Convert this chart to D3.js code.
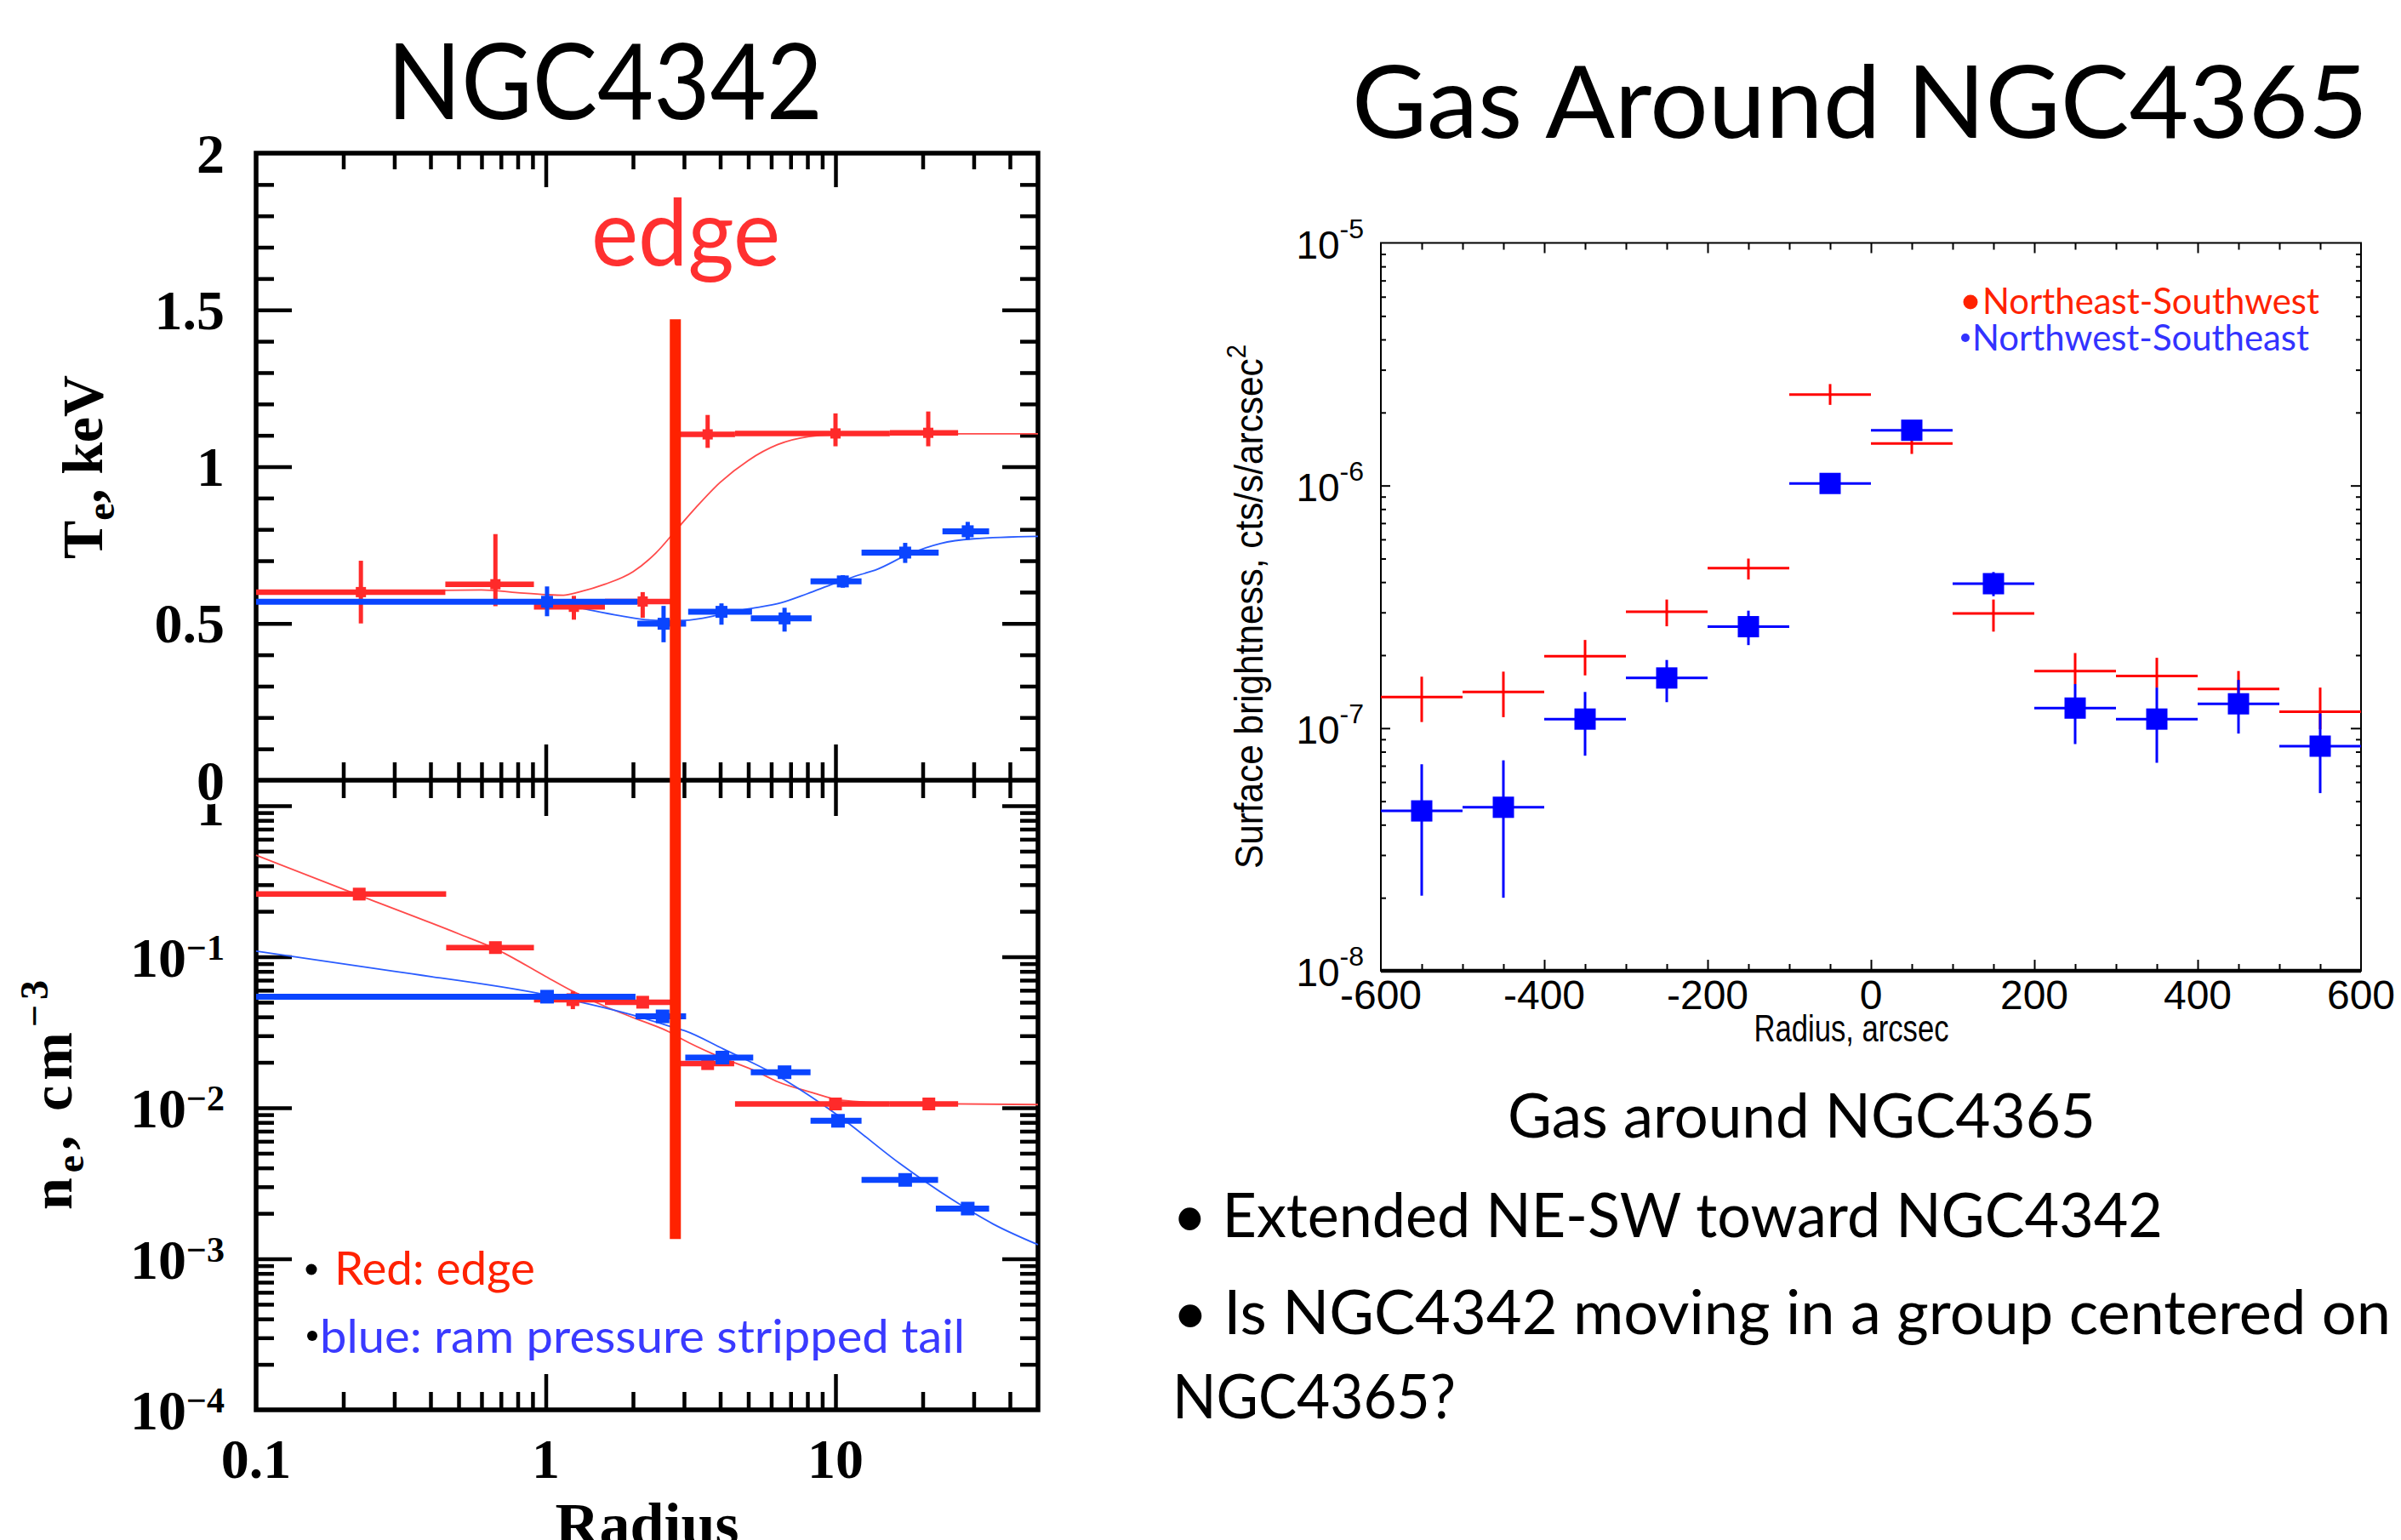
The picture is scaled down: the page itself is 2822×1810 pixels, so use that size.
<!DOCTYPE html>
<html><head><meta charset="utf-8">
<script src="https://cdn.jsdelivr.net/npm/d3@7/dist/d3.min.js"></script>
<style>html,body{margin:0;padding:0;background:#fff;}svg{display:block;}</style>
</head><body>
<script>
// ================= DATA =================
// NGC4342 profiles. Rows: [radius, radiusLo, radiusHi, value, valueLo, valueHi]
const tempEdge = [
  [0.23, 0.10, 0.45, 0.600, 0.500, 0.700],
  [0.67, 0.45, 0.91, 0.625, 0.555, 0.785],
  [1.25, 0.91, 1.60, 0.553, 0.512, 0.588],
  [2.16, 1.60, 2.70, 0.570, 0.518, 0.600],
  [3.62, 2.80, 4.50, 1.103, 1.060, 1.165],
  [10.0, 4.50, 15.4, 1.106, 1.065, 1.170],
  [20.9, 15.4, 26.5, 1.108, 1.065, 1.176]
];
const tempTail = [
  [1.01, 0.10, 2.07, 0.569, 0.523, 0.618],
  [2.55, 2.07, 3.05, 0.499, 0.440, 0.556],
  [4.04, 3.10, 5.15, 0.537, 0.496, 0.564],
  [6.67, 5.10, 8.27, 0.516, 0.474, 0.550],
  [10.6, 8.20, 12.3, 0.634, 0.614, 0.654],
  [17.4, 12.3, 22.7, 0.726, 0.693, 0.757],
  [28.6, 23.4, 33.9, 0.794, 0.767, 0.824]
];
const densEdge = [
  [0.227, 0.10, 0.453, 0.260, 0.245, 0.275],
  [0.67, 0.453, 0.91, 0.115, 0.108, 0.122],
  [1.24, 0.91, 1.60, 0.052, 0.045, 0.059],
  [2.16, 1.60, 2.70, 0.050, 0.046, 0.054],
  [3.62, 2.80, 4.47, 0.0196, 0.0185, 0.0210],
  [10.0, 4.50, 15.4, 0.0106, 0.0100, 0.0112],
  [21.0, 15.4, 26.5, 0.0106, 0.0100, 0.0112]
];
const densTail = [
  [1.01, 0.10, 2.04, 0.0544, 0.0510, 0.0580],
  [2.53, 2.04, 3.05, 0.0403, 0.0370, 0.0440],
  [4.07, 3.03, 5.20, 0.0215, 0.0200, 0.0230],
  [6.67, 5.10, 8.20, 0.0172, 0.0160, 0.0185],
  [10.2, 8.20, 12.3, 0.0082, 0.0076, 0.0088],
  [17.4, 12.3, 22.6, 0.00333, 0.0031, 0.0036],
  [28.6, 22.2, 33.9, 0.00215, 0.0020, 0.0023]
];
// model curves: [radius, value]
const tempEdgeModel = [[0.1,0.602],[0.3,0.604],[0.6,0.607],[0.8,0.598],[1.0,0.592],[1.15,0.590],[1.3,0.600],[1.6,0.625],[2.0,0.665],[2.4,0.725],[2.8,0.795],[3.3,0.870],[4.0,0.950],[5.0,1.020],[6.3,1.070],[8.1,1.096],[10,1.102],[20,1.105],[50,1.105]];
const tempTailModel = [[0.1,0.575],[0.5,0.574],[1.0,0.570],[1.3,0.550],[1.8,0.525],[2.4,0.510],[3.0,0.510],[4.0,0.528],[4.9,0.545],[6.5,0.566],[8.0,0.595],[9.9,0.627],[12.2,0.656],[13.7,0.670],[18,0.722],[23,0.755],[30,0.770],[50,0.778]];
const densEdgeModel = [[0.1,0.47],[0.227,0.255],[0.5,0.142],[0.67,0.113],[1.0,0.074],[1.24,0.059],[1.6,0.047],[2.07,0.0386],[2.7,0.0314],[2.96,0.0284],[3.9,0.0221],[5.3,0.0175],[6.3,0.0149],[8.2,0.0127],[10.5,0.0112],[16.6,0.0107],[50,0.0105]];
const densTailModel = [[0.1,0.109],[0.3,0.080],[1.0,0.056],[2.0,0.041],[2.7,0.0345],[3.0,0.0325],[4.1,0.0245],[6.3,0.0163],[10.2,0.0089],[16.6,0.0043],[25,0.0025],[35,0.0017],[50,0.00124]];
const edgeRadius = 2.8;      // position of the edge marker
const edgeTopT = 1.47;       // keV where the marker starts
const edgeBottomN = 1.35e-3; // cm^-3 where the marker ends
const radiusTickLabels = [0.1, 1, 10];
const tempTickLabels = [0, 0.5, 1, 1.5, 2];
const densTickExps = [-1, -2, -3, -4];

// NGC4365 surface brightness
const sbRadius   = [-550,-450,-350,-250,-150,-50,50,150,250,350,450,550];
const sbBinHalf  = 50;
const sbNESW     = [1.345e-7,1.41e-7,1.98e-7,3.02e-7,4.57e-7,2.37e-6,1.49e-6,2.97e-7,1.72e-7,1.64e-7,1.45e-7,1.17e-7];
const sbNESWHi   = [1.63e-7,1.71e-7,2.31e-7,3.39e-7,5.0e-7,2.62e-6,1.58e-6,3.39e-7,2.04e-7,1.95e-7,1.72e-7,1.47e-7];
const sbNESWLo   = [1.06e-7,1.11e-7,1.65e-7,2.63e-7,4.1e-7,2.15e-6,1.35e-6,2.5e-7,1.52e-7,1.47e-7,1.27e-7,0.99e-7];
const sbNWSE     = [4.56e-8,4.72e-8,1.09e-7,1.61e-7,2.62e-7,1.02e-6,1.69e-6,3.94e-7,1.21e-7,1.09e-7,1.26e-7,8.43e-8];
const sbNWSEHi   = [7.1e-8,7.37e-8,1.41e-7,1.91e-7,3.05e-7,1.06e-6,1.76e-6,4.4e-7,1.52e-7,1.47e-7,1.58e-7,1.15e-7];
const sbNWSELo   = [2.04e-8,2.0e-8,7.7e-8,1.28e-7,2.2e-7,0.97e-6,1.62e-6,3.5e-7,0.86e-7,0.72e-7,0.95e-7,5.4e-8];
const sbXTicks   = [-600,-400,-200,0,200,400,600];
const sbYTickExps = [-8,-7,-6,-5];

// ================= DRAWING =================
const W = 2822, H = 1810;
const svg = d3.select("body").append("svg").attr("width", W).attr("height", H);
svg.append("rect").attr("width", W).attr("height", H).attr("fill", "#fff");

const SERIF = '"Liberation Serif","DejaVu Serif",serif';
const SANS = 'Lato,"Open Sans","Noto Sans",sans-serif';
const HELV = '"Liberation Sans Narrow","Liberation Sans",Arial,sans-serif';

const RED_L = "#ff2a2a", BLUE_L = "#0a45ff", EDGE = "#ff2200";

function tickAxis(gen, scale, values, size, tr, width) {
  const g = svg.append("g").attr("transform", tr)
    .call(gen(scale).tickValues(values).tickSize(size).tickFormat(""));
  g.select(".domain").remove();
  g.selectAll(".tick text").remove();
  g.selectAll(".tick line").attr("stroke", "#000").attr("stroke-width", width);
  return g;
}

// ---------- Left figure ----------
const L = {x0: 301, x1: 1220, yTop: 180, yMid: 917, yBot: 1657};
const xR = d3.scaleLog().domain([0.1, 50]).range([L.x0, L.x1]);
const yT = d3.scaleLinear().domain([0, 2]).range([L.yMid, L.yTop]);
const yN = d3.scaleLog().domain([1e-4, 1]).range([L.yBot, 947]);

const xMinor = [], xMajor = [1, 10];
[-1, 0, 1].forEach(e => { for (let k = 2; k <= 9; k++) { const v = k * Math.pow(10, e); if (v < 50) xMinor.push(v); } });
const tMinor = d3.range(1, 20).filter(i => i % 5 !== 0).map(i => i / 10);
const tMajor = [0.5, 1, 1.5];
const nMinor = [], nMajor = [1e-3, 1e-2, 1e-1, 1];
[-4, -3, -2, -1].forEach(e => { for (let k = 2; k <= 9; k++) nMinor.push(k * Math.pow(10, e)); });

const TW = 4.5;
tickAxis(d3.axisBottom, xR, xMinor, 19, `translate(0,${L.yTop})`, TW);
tickAxis(d3.axisBottom, xR, xMajor, 40, `translate(0,${L.yTop})`, TW);
tickAxis(d3.axisBottom, xR, xMinor, 21, `translate(0,${L.yMid})`, TW);
tickAxis(d3.axisTop, xR, xMinor, 21, `translate(0,${L.yMid})`, TW);
tickAxis(d3.axisBottom, xR, xMajor, 42, `translate(0,${L.yMid})`, TW);
tickAxis(d3.axisTop, xR, xMajor, 42, `translate(0,${L.yMid})`, TW);
tickAxis(d3.axisTop, xR, xMinor, 21, `translate(0,${L.yBot})`, TW);
tickAxis(d3.axisTop, xR, xMajor, 42, `translate(0,${L.yBot})`, TW);
tickAxis(d3.axisRight, yT, tMinor, 21, `translate(${L.x0},0)`, TW);
tickAxis(d3.axisRight, yT, tMajor, 42, `translate(${L.x0},0)`, TW);
tickAxis(d3.axisLeft, yT, tMinor, 21, `translate(${L.x1},0)`, TW);
tickAxis(d3.axisLeft, yT, tMajor, 42, `translate(${L.x1},0)`, TW);
tickAxis(d3.axisRight, yN, nMinor, 21, `translate(${L.x0},0)`, TW);
tickAxis(d3.axisRight, yN, nMajor, 42, `translate(${L.x0},0)`, TW);
tickAxis(d3.axisLeft, yN, nMinor, 21, `translate(${L.x1},0)`, TW);
tickAxis(d3.axisLeft, yN, nMajor, 42, `translate(${L.x1},0)`, TW);

svg.append("rect").attr("x", L.x0).attr("y", L.yTop).attr("width", L.x1 - L.x0).attr("height", L.yBot - L.yTop)
  .attr("fill", "none").attr("stroke", "#000").attr("stroke-width", 5.5);
svg.append("line").attr("x1", L.x0).attr("x2", L.x1).attr("y1", L.yMid).attr("y2", L.yMid)
  .attr("stroke", "#000").attr("stroke-width", 5.5);

// model curves
function model(data, yScale, color) {
  svg.append("path").datum(data)
    .attr("d", d3.line().x(d => xR(d[0])).y(d => yScale(d[1])).curve(d3.curveMonotoneX))
    .attr("fill", "none").attr("stroke", color).attr("stroke-width", 1.8);
}
model(tempEdgeModel, yT, "#ff4a4a");
model(tempTailModel, yT, "#2a5cff");
model(densEdgeModel, yN, "#ff4a4a");
model(densTailModel, yN, "#2a5cff");

function errPoints(data, yScale, color, hw, vw, sq) {
  const g = svg.append("g");
  g.selectAll("line.h").data(data).join("line").attr("class", "h")
    .attr("x1", d => xR(d[1])).attr("x2", d => xR(d[2]))
    .attr("y1", d => yScale(d[3])).attr("y2", d => yScale(d[3]))
    .attr("stroke", color).attr("stroke-width", hw);
  g.selectAll("line.v").data(data).join("line").attr("class", "v")
    .attr("x1", d => xR(d[0])).attr("x2", d => xR(d[0]))
    .attr("y1", d => yScale(d[4])).attr("y2", d => yScale(d[5]))
    .attr("stroke", color).attr("stroke-width", vw);
  g.selectAll("rect").data(data).join("rect")
    .attr("x", d => xR(d[0]) - sq / 2).attr("y", d => yScale(d[3]) - sq / 2)
    .attr("width", sq).attr("height", sq).attr("fill", color);
}
errPoints(tempEdge, yT, RED_L, 6.5, 5, 12);
errPoints(tempTail, yT, BLUE_L, 7, 5, 14);
errPoints(densEdge, yN, RED_L, 6.5, 5, 15);
errPoints(densTail, yN, BLUE_L, 7, 5, 16);

// edge marker
svg.append("line").attr("x1", xR(edgeRadius)).attr("x2", xR(edgeRadius))
  .attr("y1", yT(edgeTopT)).attr("y2", yN(edgeBottomN))
  .attr("stroke", EDGE).attr("stroke-width", 13);

// tick labels (left)
svg.append("text").attr("x", 264).attr("y", yN(1)).attr("dominant-baseline", "central")
  .attr("text-anchor", "end").attr("font-family", SERIF).attr("font-weight", "bold").attr("font-size", 66).text("1");
svg.selectAll("text.tl").data(tempTickLabels).join("text").attr("class", "tl")
  .attr("x", 264).attr("y", d => yT(d)).attr("dominant-baseline", "central").attr("text-anchor", "end")
  .attr("font-family", SERIF).attr("font-weight", "bold").attr("font-size", 66)
  .attr("stroke", d => d === 0 ? "#fff" : "none").attr("stroke-width", 10).attr("paint-order", "stroke")
  .text(d => String(d));
densTickExps.forEach(e => {
  const t = svg.append("text").attr("x", 264).attr("y", yN(Math.pow(10, e)) + 23).attr("text-anchor", "end")
    .attr("font-family", SERIF).attr("font-weight", "bold").attr("font-size", 66);
  t.append("tspan").text("10");
  t.append("tspan").attr("dy", -20).attr("font-size", 42).text("\u2212" + Math.abs(e));
});
svg.selectAll("text.xl").data(radiusTickLabels).join("text").attr("class", "xl")
  .attr("x", d => xR(d)).attr("y", 1737).attr("text-anchor", "middle")
  .attr("font-family", SERIF).attr("font-weight", "bold").attr("font-size", 66)
  .text(d => String(d));
svg.append("text").attr("x", (L.x0 + L.x1) / 2).attr("y", 1816).attr("text-anchor", "middle")
  .attr("font-family", SERIF).attr("font-weight", "bold").attr("font-size", 72).text("Radius");

// axis titles (left)
{
  const t = svg.append("text").attr("transform", "translate(120,549) rotate(-90)").attr("text-anchor", "middle")
    .attr("font-family", SERIF).attr("font-weight", "bold").attr("font-size", 68)
    .attr("textLength", 216).attr("lengthAdjust", "spacing");
  t.append("tspan").text("T");
  t.append("tspan").attr("dy", 14).attr("font-size", 46).text("e");
  t.append("tspan").attr("dy", -14).text(",  keV");
}
{
  const t = svg.append("text").attr("transform", "translate(84,1287) rotate(-90)").attr("text-anchor", "middle")
    .attr("font-family", SERIF).attr("font-weight", "bold").attr("font-size", 68)
    .attr("textLength", 270).attr("lengthAdjust", "spacing");
  t.append("tspan").text("n");
  t.append("tspan").attr("dy", 14).attr("font-size", 46).text("e");
  t.append("tspan").attr("dy", -14).text(",  cm");
  t.append("tspan").attr("dy", -28).attr("font-size", 46).text("\u22123");
}

// annotations (left)
function fitText(x, y, str, size, color, len, anchor) {
  return svg.append("text").attr("x", x).attr("y", y).attr("font-family", SANS).attr("font-size", size)
    .attr("fill", color).attr("text-anchor", anchor || "start")
    .attr("textLength", len).attr("lengthAdjust", "spacingAndGlyphs").text(str);
}
fitText(455, 140, "NGC4342", 125, "#000", 512);
fitText(695, 312, "edge", 108, "#ff3030", 222);
svg.append("circle").attr("cx", 366).attr("cy", 1492).attr("r", 6.5).attr("fill", "#000");
fitText(393, 1510, "Red: edge", 54, "#ff2200", 236);
svg.append("circle").attr("cx", 367).attr("cy", 1570).attr("r", 6).attr("fill", "#000");
fitText(376, 1590, "blue: ram pressure stripped tail", 54, "#3a3aff", 758);

// ---------- Right figure ----------
const R = {x0: 1623, x1: 2775, y0: 285.5, y1: 1141};
const rx = d3.scaleLinear().domain([-600, 600]).range([R.x0, R.x1]);
const ry = d3.scaleLog().domain([1e-8, 1e-5]).range([R.y1, R.y0]);

const sxMinor = d3.range(-550, 600, 50).filter(v => v % 200 !== 0);
const sxMajor = [-400, -200, 0, 200, 400];
const syMinor = [], syMajor = [1e-7, 1e-6];
[-8, -7, -6].forEach(e => { for (let k = 2; k <= 9; k++) syMinor.push(k * Math.pow(10, e)); });

tickAxis(d3.axisBottom, rx, sxMinor, 8, `translate(0,${R.y0})`, 2);
tickAxis(d3.axisBottom, rx, sxMajor, 12, `translate(0,${R.y0})`, 2);
tickAxis(d3.axisTop, rx, sxMinor, 8, `translate(0,${R.y1})`, 2);
tickAxis(d3.axisTop, rx, sxMajor, 13, `translate(0,${R.y1})`, 2);
tickAxis(d3.axisRight, ry, syMinor, 6, `translate(${R.x0},0)`, 2);
tickAxis(d3.axisRight, ry, syMajor, 11, `translate(${R.x0},0)`, 2);
tickAxis(d3.axisLeft, ry, syMinor, 6, `translate(${R.x1},0)`, 2);
tickAxis(d3.axisLeft, ry, syMajor, 12, `translate(${R.x1},0)`, 2);

svg.append("rect").attr("x", R.x0).attr("y", R.y0).attr("width", R.x1 - R.x0).attr("height", R.y1 - R.y0)
  .attr("fill", "none").attr("stroke", "#000").attr("stroke-width", 2);
svg.append("line").attr("x1", R.x0).attr("x2", R.x1).attr("y1", R.y1).attr("y2", R.y1)
  .attr("stroke", "#000").attr("stroke-width", 4.5);

function sbSeries(vals, lo, hi, color, square) {
  const d = sbRadius.map((r, i) => ({r, v: vals[i], lo: lo[i], hi: hi[i]}));
  const g = svg.append("g");
  g.selectAll("line.h").data(d).join("line").attr("class", "h")
    .attr("x1", p => rx(p.r - sbBinHalf)).attr("x2", p => rx(p.r + sbBinHalf))
    .attr("y1", p => ry(p.v)).attr("y2", p => ry(p.v))
    .attr("stroke", color).attr("stroke-width", 3);
  g.selectAll("line.v").data(d).join("line").attr("class", "v")
    .attr("x1", p => rx(p.r)).attr("x2", p => rx(p.r))
    .attr("y1", p => ry(p.lo)).attr("y2", p => ry(p.hi))
    .attr("stroke", color).attr("stroke-width", 3);
  if (square) g.selectAll("rect").data(d).join("rect")
    .attr("x", p => rx(p.r) - 12.5).attr("y", p => ry(p.v) - 12.5)
    .attr("width", 25).attr("height", 25).attr("fill", color);
}
sbSeries(sbNESW, sbNESWLo, sbNESWHi, "#ff0000", false);
sbSeries(sbNWSE, sbNWSELo, sbNWSEHi, "#0000ff", true);

svg.selectAll("text.sx").data(sbXTicks).join("text").attr("class", "sx")
  .attr("x", d => rx(d)).attr("y", 1186).attr("text-anchor", "middle")
  .attr("font-family", HELV).attr("font-size", 48).text(d => String(d));
sbYTickExps.forEach(e => {
  const t = svg.append("text").attr("x", 1603).attr("y", ry(Math.pow(10, e)) + 18).attr("text-anchor", "end")
    .attr("font-family", HELV).attr("font-size", 46);
  t.append("tspan").text("10");
  t.append("tspan").attr("dy", -24).attr("font-size", 32).text(String(e));
});
svg.append("text").attr("x", 2176).attr("y", 1224).attr("text-anchor", "middle")
  .attr("font-family", HELV).attr("font-size", 44).attr("textLength", 229).attr("lengthAdjust", "spacingAndGlyphs")
  .text("Radius, arcsec");
{
  const t = svg.append("text").attr("transform", "translate(1484,713) rotate(-90)").attr("text-anchor", "middle")
    .attr("font-family", HELV).attr("font-size", 46).attr("textLength", 616).attr("lengthAdjust", "spacingAndGlyphs");
  t.append("tspan").text("Surface brightness,  cts/s/arcsec");
  t.append("tspan").attr("dy", -20).attr("font-size", 32).text("2");
}
// legend
svg.append("circle").attr("cx", 2316).attr("cy", 355).attr("r", 8.5).attr("fill", "#ff2200");
fitText(2330, 369, "Northeast-Southwest", 42, "#ff2200", 396);
svg.append("circle").attr("cx", 2310).attr("cy", 397).attr("r", 5).attr("fill", "#3333ff");
fitText(2318, 412, "Northwest-Southeast", 42, "#3333ff", 396);

// slide text
fitText(1589, 162, "Gas Around NGC4365", 118, "#000", 1194);
fitText(1772, 1337, "Gas around NGC4365", 72, "#000", 691);
fitText(1378, 1454, "\u2022 Extended NE-SW toward NGC4342", 72, "#000", 1164);
fitText(1378, 1568, "\u2022 Is NGC4342 moving in a group centered on", 72, "#000", 1432);
fitText(1378, 1667, "NGC4365?", 72, "#000", 333);
</script>
</body></html>
